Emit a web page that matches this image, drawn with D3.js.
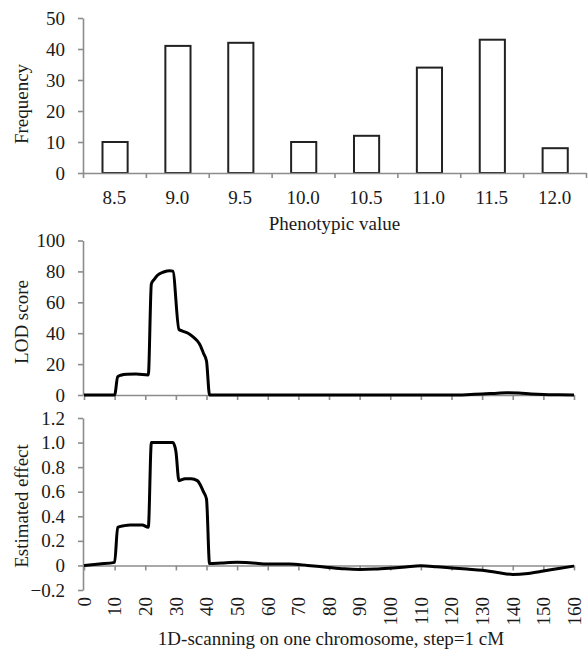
<!DOCTYPE html>
<html>
<head>
<meta charset="utf-8">
<script src="https://cdn.jsdelivr.net/npm/d3@7"></script>
<style>
  body { margin: 0; background: #fff; }
  svg text { font-family: "Liberation Serif", "Times New Roman", serif; fill: #1a1a1a; }
</style>
</head>
<body>
<div id="chart"></div>
<script>
// histogram of phenotypic values
const phenoBins = ['8.5', '9.0', '9.5', '10.0', '10.5', '11.0', '11.5', '12.0'];
const phenoFreq = [10, 41, 42, 10, 12, 34, 43, 8];

// LOD profile (cM, LOD)
const lodPos = [0, 10, 11, 12, 14, 17, 21, 22, 23, 24, 26, 28, 29, 31, 32, 34, 36, 37, 38, 39, 40, 41,
  60, 80, 100, 120, 125, 130, 135, 138, 142, 146, 150, 155, 160];
const lodVal = [0, 0, 11.8, 12.8, 13.5, 13.6, 13, 72, 75, 77.5, 79.6, 80.5, 80.2, 42.5, 41.5, 40, 37, 35, 32, 27, 22, 0,
  0, 0, 0, 0, 0.2, 0.6, 1.2, 1.5, 1.3, 0.7, 0.3, 0.1, 0];

// estimated effect (cM, effect)
const effPos = [0, 5, 10, 11, 13, 15, 19, 21, 22, 25, 29, 30, 31, 33, 35, 37, 38, 39, 40, 41,
  45, 50, 55, 60, 67, 73, 79, 85, 90, 95, 100, 105, 110, 115, 120, 125, 130, 135, 140, 145, 150, 155, 160];
const effVal = [0, 0.012, 0.025, 0.31, 0.323, 0.33, 0.33, 0.31, 1.0, 1.0, 1.0, 0.93, 0.69, 0.705, 0.705, 0.69, 0.655, 0.6, 0.54, 0.015,
  0.02, 0.025, 0.02, 0.012, 0.012, 0, -0.014, -0.028, -0.033, -0.03, -0.022, -0.012, -0.003, -0.01, -0.02, -0.03, -0.04, -0.058, -0.073, -0.065, -0.046, -0.025, -0.005];

const freqTicks = [0, 10, 20, 30, 40, 50];
const lodTicks = [0, 20, 40, 60, 80, 100];
const effTicks = [-0.2, 0, 0.2, 0.4, 0.6, 0.8, 1.0, 1.2];
const cmTicks = d3.range(0, 161, 10);

const width = 588, height = 649;
const axisColor = '#8c8c8c';
const fontSize = '19px';

const svg = d3.select('#chart').append('svg')
  .attr('width', width)
  .attr('height', height);

function styleAxis(g) {
  g.selectAll('.domain').attr('stroke', axisColor).attr('stroke-width', 1.6);
  g.selectAll('.tick line').attr('stroke', axisColor).attr('stroke-width', 1.6);
  g.selectAll('.tick text').style('font-size', fontSize).attr('fill', '#1a1a1a');
}

function yTitle(text, cy) {
  svg.append('text')
    .attr('transform', `translate(28, ${cy}) rotate(-90)`)
    .attr('text-anchor', 'middle')
    .style('font-size', fontSize)
    .text(text);
}

// ---- top: histogram ----
let histLeft = 83, histRight = 586;

let histX = d3.scaleBand()
  .domain(phenoBins)
  .range([histLeft, histRight])
  .paddingInner(0)
  .paddingOuter(0);

let histY = d3.scaleLinear()
  .domain([0, 50])
  .range([173, 18]);

let histBoundary = d3.scaleLinear()
  .domain([0, phenoBins.length])
  .range([histLeft, histRight]);

svg.append('g')
  .attr('class', 'hist_bars')
  .selectAll('rect')
  .data(phenoFreq)
  .enter().append('rect')
  .attr('x', (d, i) => histX(phenoBins[i]) + histX.bandwidth() * 0.31)
  .attr('width', histX.bandwidth() * 0.4)
  .attr('y', d => histY(d))
  .attr('height', d => histY(0) - histY(d))
  .attr('fill', '#fff')
  .attr('stroke', '#222')
  .attr('stroke-width', 2);

svg.append('g')
  .attr('transform', `translate(${histLeft}, 0)`)
  .call(d3.axisLeft(histY).tickValues(freqTicks).tickSize(5).tickPadding(13).tickSizeOuter(0))
  .call(styleAxis);

svg.append('g')
  .attr('transform', `translate(0, ${histY(0)})`)
  .call(d3.axisBottom(histBoundary).tickValues(d3.range(0, phenoBins.length + 1)).tickFormat('').tickSize(5).tickSizeOuter(0))
  .call(styleAxis);

svg.append('g')
  .attr('transform', `translate(0, ${histY(0)})`)
  .call(d3.axisBottom(histX).tickSize(0).tickPadding(18))
  .call(g => g.select('.domain').remove())
  .call(styleAxis);

svg.append('text')
  .attr('x', (histLeft + histRight) / 2)
  .attr('y', 230)
  .attr('text-anchor', 'middle')
  .style('font-size', fontSize)
  .text('Phenotypic value');

yTitle('Frequency', 104);

// ---- shared x scale for scans ----
let cmX = d3.scaleLinear()
  .domain([0, 160])
  .range([84, 574]);

// ---- middle: LOD ----
let lodY = d3.scaleLinear()
  .domain([0, 100])
  .range([395, 240.5]);

svg.append('g')
  .attr('transform', `translate(${cmX(0) - 1}, 0)`)
  .call(d3.axisLeft(lodY).tickValues(lodTicks).tickSize(5).tickPadding(13).tickSizeOuter(0))
  .call(styleAxis);

svg.append('g')
  .attr('transform', `translate(0, ${lodY(0)})`)
  .call(d3.axisBottom(cmX).tickValues(cmTicks).tickFormat('').tickSize(5).tickSizeOuter(0))
  .call(styleAxis);

let lodLine = d3.line()
  .x(d => cmX(d[0]))
  .y(d => lodY(d[1]))
  .curve(d3.curveMonotoneX);

svg.append('path')
  .datum(lodPos.map((p, i) => [p, lodVal[i]]))
  .attr('d', lodLine)
  .attr('fill', 'none')
  .attr('stroke', '#000')
  .attr('stroke-width', 3)
  .attr('stroke-linejoin', 'round');

yTitle('LOD score', 322);

// ---- bottom: estimated effect ----
let effY = d3.scaleLinear()
  .domain([-0.2, 1.2])
  .range([590, 418]);

svg.append('g')
  .attr('transform', `translate(${cmX(0) - 1}, 0)`)
  .call(d3.axisLeft(effY).tickValues(effTicks).tickSize(5).tickPadding(13).tickSizeOuter(0)
    .tickFormat(d => d === 0 ? '0' : d3.format('.1f')(d).replace('-', '\u2212')))
  .call(styleAxis);

svg.append('g')
  .attr('transform', `translate(0, ${effY(0)})`)
  .call(d3.axisBottom(cmX).tickValues(cmTicks).tickFormat('').tickSize(5).tickSizeOuter(0))
  .call(styleAxis);

svg.append('g')
  .attr('transform', `translate(0, ${effY(-0.2)})`)
  .call(d3.axisBottom(cmX).tickValues(cmTicks).tickSize(0))
  .call(g => g.select('.domain').remove())
  .call(styleAxis)
  .call(g => g.selectAll('.tick text')
    .attr('transform', 'rotate(-90)')
    .attr('text-anchor', 'end')
    .attr('x', -7)
    .attr('y', 0)
    .attr('dy', '0.33em'));

let effLine = d3.line()
  .x(d => cmX(d[0]))
  .y(d => effY(d[1]))
  .curve(d3.curveMonotoneX);

svg.append('path')
  .datum(effPos.map((p, i) => [p, effVal[i]]))
  .attr('d', effLine)
  .attr('fill', 'none')
  .attr('stroke', '#000')
  .attr('stroke-width', 3)
  .attr('stroke-linejoin', 'round');

yTitle('Estimated effect', 506);

svg.append('text')
  .attr('x', 331)
  .attr('y', 645)
  .attr('text-anchor', 'middle')
  .style('font-size', fontSize)
  .text('1D-scanning on one chromosome, step=1 cM');
</script>
</body>
</html>
